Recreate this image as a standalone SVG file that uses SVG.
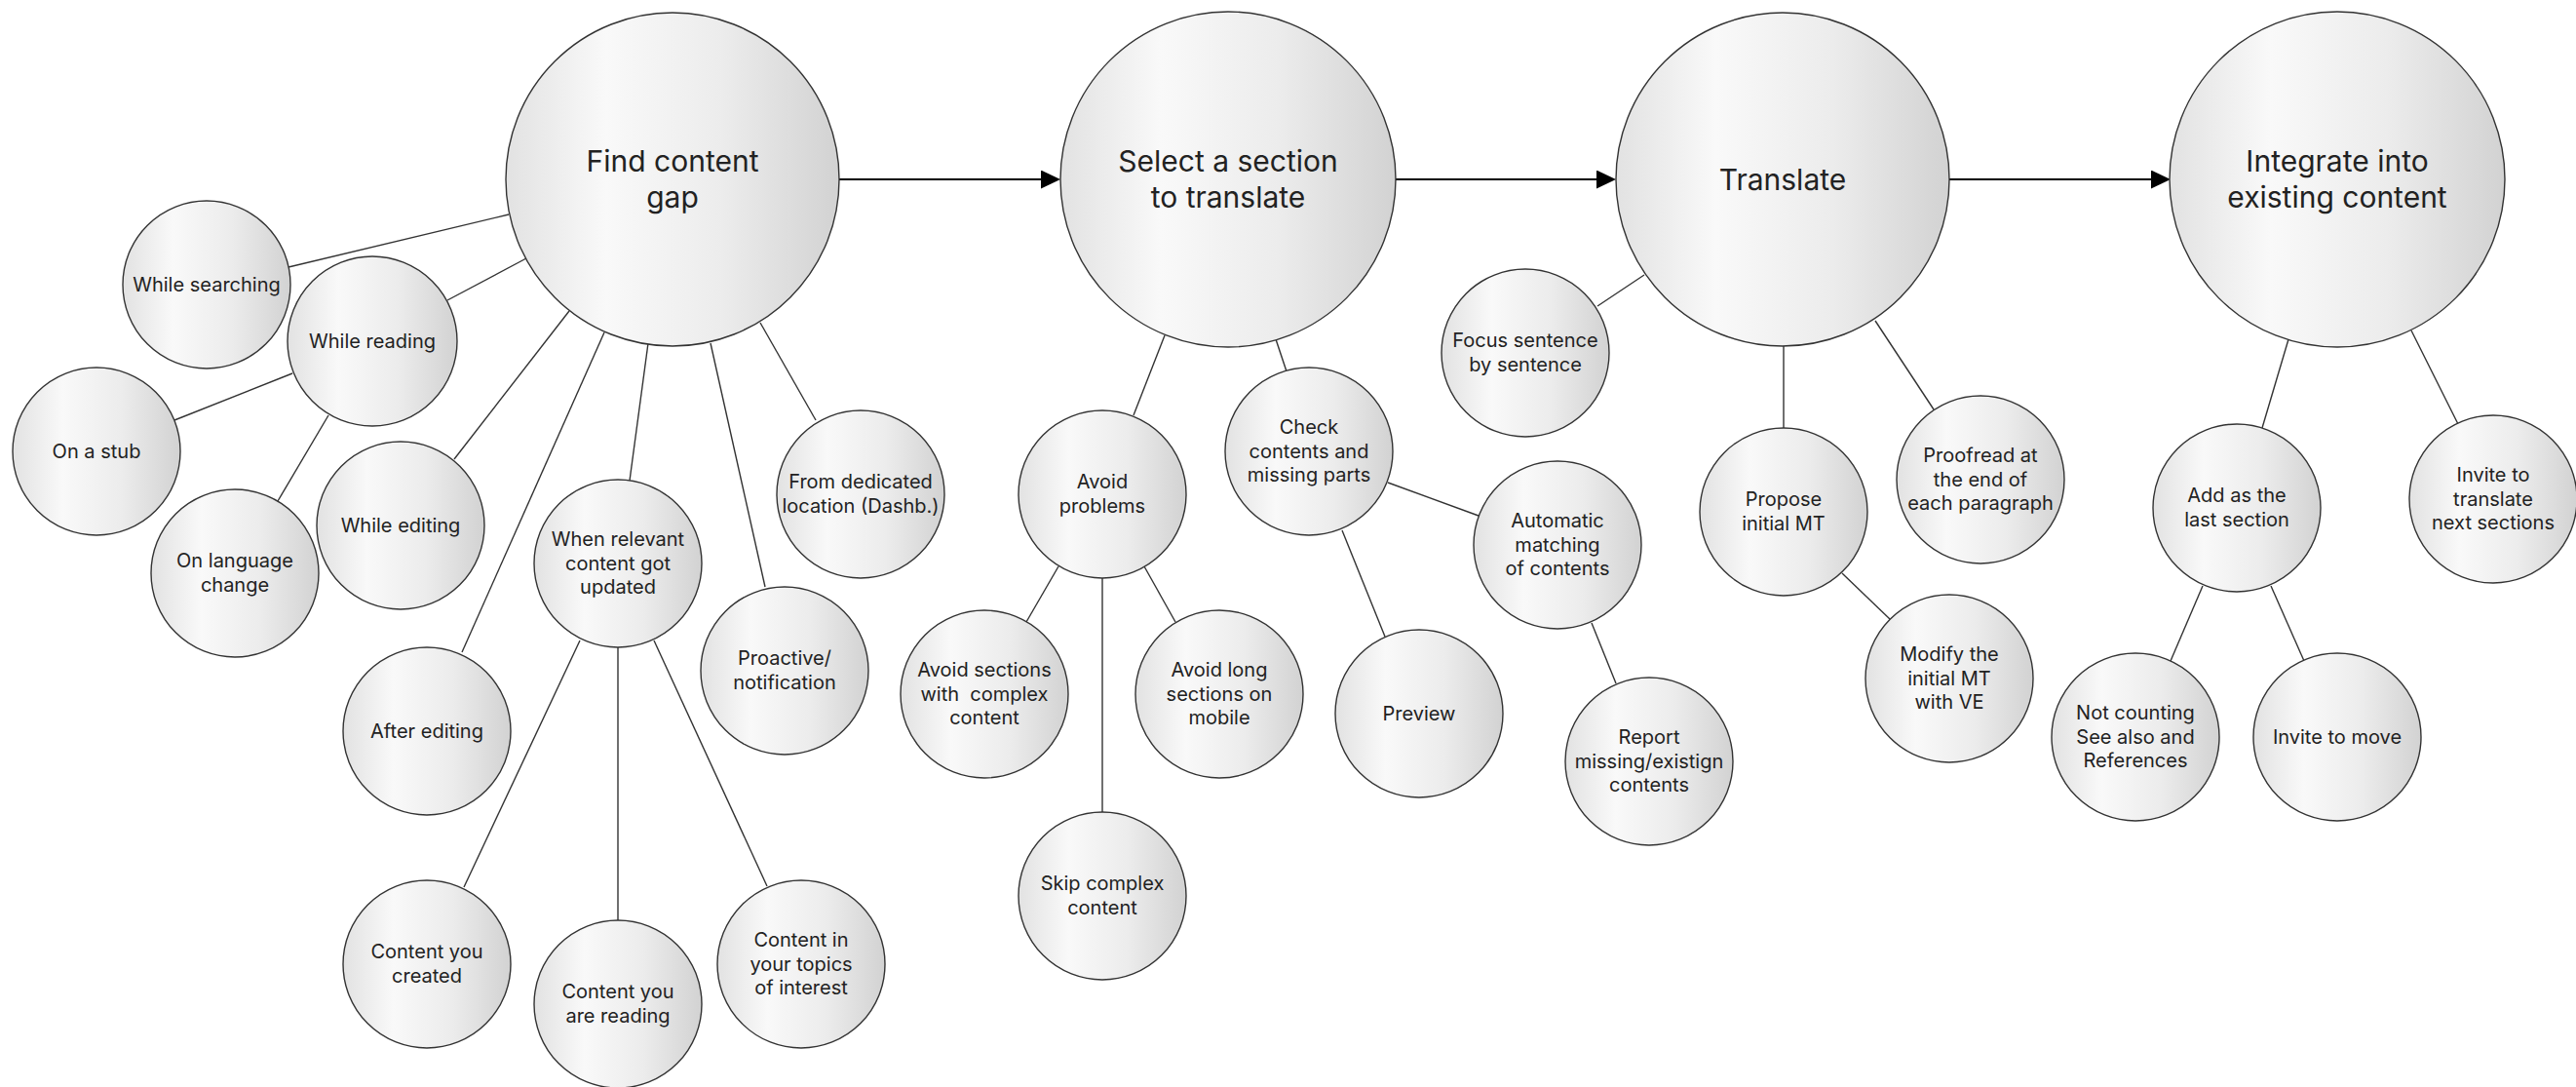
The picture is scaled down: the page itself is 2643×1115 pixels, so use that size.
<svg xmlns="http://www.w3.org/2000/svg" width="2643" height="1115" viewBox="0 0 2643 1115">
<defs>
<linearGradient id="g" x1="0" y1="0" x2="1" y2="0">
<stop offset="0" stop-color="#e2e2e2"/>
<stop offset="0.3" stop-color="#f9f9f9"/>
<stop offset="0.65" stop-color="#ececec"/>
<stop offset="1" stop-color="#d2d2d2"/>
</linearGradient>
<marker id="ah" markerUnits="userSpaceOnUse" markerWidth="21" markerHeight="20" refX="0" refY="9.5" orient="auto">
<path d="M0,0 L20,9.5 L0,19 z" fill="#000"/>
</marker>
<style>
circle{fill:url(#g);stroke:#333;stroke-width:1.4}
text{font-family:Inter,"Noto Sans","Liberation Sans",sans-serif;fill:#222;text-anchor:middle}
.b{font-size:30px}
.s{font-size:20px}
.c line{stroke:#333;stroke-width:1.4}
.a line{stroke:#000;stroke-width:2}
</style>
</defs>
<rect width="2643" height="1115" fill="#fff"/>
<g id="connectors">
<g class="a">
<line x1="861" y1="184" x2="1068" y2="184" marker-end="url(#ah)"/>
<line x1="1432" y1="184" x2="1638" y2="184" marker-end="url(#ah)"/>
<line x1="2000" y1="184" x2="2207" y2="184" marker-end="url(#ah)"/>
</g>
<g class="c">
<line x1="522" y1="220" x2="296" y2="274"/>
<line x1="540" y1="265" x2="459" y2="308"/>
<line x1="584" y1="319" x2="466" y2="471"/>
<line x1="620" y1="341" x2="474" y2="669"/>
<line x1="665" y1="352" x2="646" y2="493"/>
<line x1="729" y1="352" x2="785" y2="602"/>
<line x1="780" y1="331" x2="837" y2="431"/>
<line x1="300" y1="383" x2="179" y2="431"/>
<line x1="337" y1="426" x2="285" y2="514"/>
<line x1="595" y1="657" x2="476" y2="910"/>
<line x1="634" y1="664" x2="634" y2="944"/>
<line x1="671" y1="657" x2="787" y2="909"/>
<line x1="1195" y1="344" x2="1163" y2="426"/>
<line x1="1309" y1="348" x2="1320" y2="381"/>
<line x1="1086" y1="581" x2="1053" y2="638"/>
<line x1="1174" y1="581" x2="1206" y2="638"/>
<line x1="1131" y1="593" x2="1131" y2="833"/>
<line x1="1424" y1="495" x2="1517" y2="529"/>
<line x1="1377" y1="544" x2="1421" y2="653"/>
<line x1="1633" y1="639" x2="1658" y2="701"/>
<line x1="1687" y1="282" x2="1639" y2="314"/>
<line x1="1830" y1="355" x2="1830" y2="439"/>
<line x1="1924" y1="329" x2="1984" y2="420"/>
<line x1="1890" y1="588" x2="1940" y2="636"/>
<line x1="2348" y1="348" x2="2321" y2="439"/>
<line x1="2474" y1="339" x2="2522" y2="435"/>
<line x1="2260" y1="601" x2="2227" y2="678"/>
<line x1="2330" y1="601" x2="2364" y2="678"/>
</g>
</g>
<g id="find-content-gap"><circle cx="690" cy="184" r="171"/><text class="b" x="690" y="176">Find content<tspan x="690" dy="37">gap</tspan></text></g>
<g id="select-section"><circle cx="1260" cy="184" r="172"/><text class="b" x="1260" y="176">Select a section<tspan x="1260" dy="37">to translate</tspan></text></g>
<g id="translate"><circle cx="1829" cy="184" r="171"/><text class="b" x="1829" y="195">Translate</text></g>
<g id="integrate"><circle cx="2398" cy="184" r="172"/><text class="b" x="2398" y="176">Integrate into<tspan x="2398" dy="37">existing content</tspan></text></g>

<g id="while-searching"><circle cx="212" cy="292" r="86"/><text class="s" x="212" y="299">While searching</text></g>
<g id="while-reading"><circle cx="382" cy="350" r="87"/><text class="s" x="382" y="357">While reading</text></g>
<g id="on-a-stub"><circle cx="99" cy="463" r="86"/><text class="s" x="99" y="470">On a stub</text></g>
<g id="on-language-change"><circle cx="241" cy="588" r="86"/><text class="s" x="241" y="582">On language<tspan x="241" dy="24.5">change</tspan></text></g>
<g id="while-editing"><circle cx="411" cy="539" r="86"/><text class="s" x="411" y="546">While editing</text></g>
<g id="after-editing"><circle cx="438" cy="750" r="86"/><text class="s" x="438" y="757">After editing</text></g>
<g id="when-relevant"><circle cx="634" cy="578" r="86"/><text class="s" x="634" y="560">When relevant<tspan x="634" dy="24.5">content got</tspan><tspan x="634" dy="24.5">updated</tspan></text></g>
<g id="content-created"><circle cx="438" cy="989" r="86"/><text class="s" x="438" y="983">Content you<tspan x="438" dy="24.5">created</tspan></text></g>
<g id="content-reading"><circle cx="634" cy="1030" r="86"/><text class="s" x="634" y="1024">Content you<tspan x="634" dy="24.5">are reading</tspan></text></g>
<g id="content-topics"><circle cx="822" cy="989" r="86"/><text class="s" x="822" y="971">Content in<tspan x="822" dy="24.5">your topics</tspan><tspan x="822" dy="24.5">of interest</tspan></text></g>
<g id="proactive"><circle cx="805" cy="688" r="86"/><text class="s" x="805" y="682">Proactive/<tspan x="805" dy="24.5">notification</tspan></text></g>
<g id="from-dedicated"><circle cx="883" cy="507" r="86"/><text class="s" x="883" y="501">From dedicated<tspan x="883" dy="24.5">location (Dashb.)</tspan></text></g>

<g id="avoid-problems"><circle cx="1131" cy="507" r="86"/><text class="s" x="1131" y="501">Avoid<tspan x="1131" dy="24.5">problems</tspan></text></g>
<g id="check-contents"><circle cx="1343" cy="463" r="86"/><text class="s" x="1343" y="445">Check<tspan x="1343" dy="24.5">contents and</tspan><tspan x="1343" dy="24.5">missing parts</tspan></text></g>
<g id="avoid-sections"><circle cx="1010" cy="712" r="86"/><text class="s" x="1010" y="694" xml:space="preserve">Avoid sections<tspan x="1010" dy="24.5">with  complex</tspan><tspan x="1010" dy="24.5">content</tspan></text></g>
<g id="avoid-long"><circle cx="1251" cy="712" r="86"/><text class="s" x="1251" y="694">Avoid long<tspan x="1251" dy="24.5">sections on</tspan><tspan x="1251" dy="24.5">mobile</tspan></text></g>
<g id="skip-complex"><circle cx="1131" cy="919" r="86"/><text class="s" x="1131" y="913">Skip complex<tspan x="1131" dy="24.5">content</tspan></text></g>
<g id="preview"><circle cx="1456" cy="732" r="86"/><text class="s" x="1456" y="739">Preview</text></g>
<g id="automatic-matching"><circle cx="1598" cy="559" r="86"/><text class="s" x="1598" y="541">Automatic<tspan x="1598" dy="24.5">matching</tspan><tspan x="1598" dy="24.5">of contents</tspan></text></g>
<g id="report-missing"><circle cx="1692" cy="781" r="86"/><text class="s" x="1692" y="763">Report<tspan x="1692" dy="24.5">missing/existign</tspan><tspan x="1692" dy="24.5">contents</tspan></text></g>

<g id="focus-sentence"><circle cx="1565" cy="362" r="86"/><text class="s" x="1565" y="356">Focus sentence<tspan x="1565" dy="24.5">by sentence</tspan></text></g>
<g id="propose-mt"><circle cx="1830" cy="525" r="86"/><text class="s" x="1830" y="519">Propose<tspan x="1830" dy="24.5">initial MT</tspan></text></g>
<g id="proofread"><circle cx="2032" cy="492" r="86"/><text class="s" x="2032" y="474">Proofread at<tspan x="2032" dy="24.5">the end of</tspan><tspan x="2032" dy="24.5">each paragraph</tspan></text></g>
<g id="modify-mt"><circle cx="2000" cy="696" r="86"/><text class="s" x="2000" y="678">Modify the<tspan x="2000" dy="24.5">initial MT</tspan><tspan x="2000" dy="24.5">with VE</tspan></text></g>

<g id="add-last"><circle cx="2295" cy="521" r="86"/><text class="s" x="2295" y="515">Add as the<tspan x="2295" dy="24.5">last section</tspan></text></g>
<g id="invite-translate"><circle cx="2558" cy="512" r="86"/><text class="s" x="2558" y="494">Invite to<tspan x="2558" dy="24.5">translate</tspan><tspan x="2558" dy="24.5">next sections</tspan></text></g>
<g id="not-counting"><circle cx="2191" cy="756" r="86"/><text class="s" x="2191" y="738">Not counting<tspan x="2191" dy="24.5">See also and</tspan><tspan x="2191" dy="24.5">References</tspan></text></g>
<g id="invite-move"><circle cx="2398" cy="756" r="86"/><text class="s" x="2398" y="763">Invite to move</text></g>
</svg>
